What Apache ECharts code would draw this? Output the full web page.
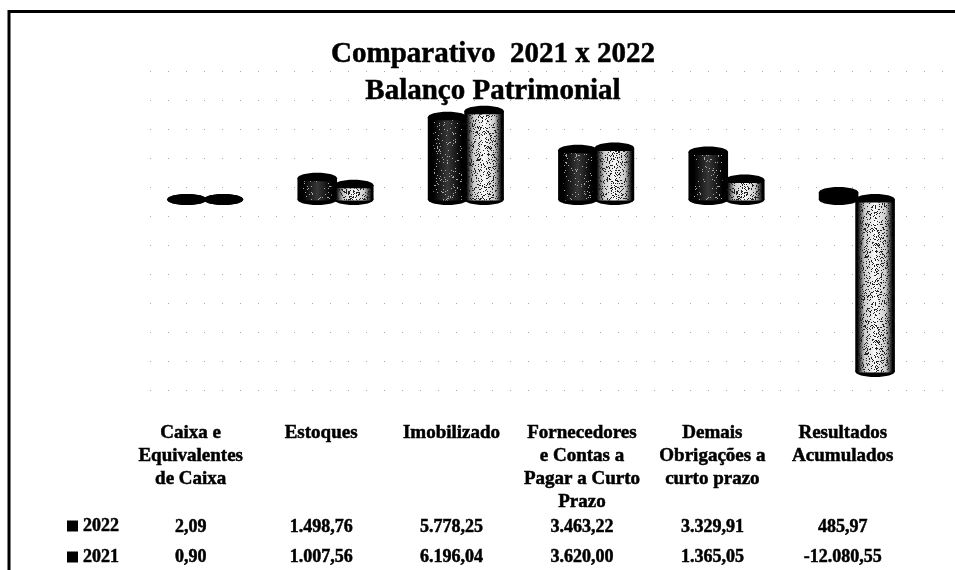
<!DOCTYPE html>
<html>
<head>
<meta charset="utf-8">
<style>html,body{margin:0;padding:0;background:#fff}#c{width:955px;height:570px}</style>
<script src="https://cdn.jsdelivr.net/npm/echarts@6/dist/echarts.min.js"></script>
</head>
<body>
<div id="c"></div>
<script>
const categories = ["Caixa e\nEquivalentes\nde Caixa", "Estoques", "Imobilizado", "Fornecedores\ne Contas a\nPagar a Curto\nPrazo", "Demais\nObrigações a\ncurto prazo", "Resultados\nAcumulados"];
const values2022 = [2.09, 1498.76, 5778.25, 3463.22, 3329.91, 485.97];
const values2021 = [0.90, 1007.56, 6196.04, 3620.00, 1365.05, -12080.55];
const labels2022 = ["2,09", "1.498,76", "5.778,25", "3.463,22", "3.329,91", "485,97"];
const labels2021 = ["0,90", "1.007,56", "6.196,04", "3.620,00", "1.365,05", "-12.080,55"];
const titleText = "Comparativo  2021 x 2022\nBalanço Patrimonial";

const FONT = '"Liberation Serif", serif';

// fixed-seed halftone tile that imitates the scanned dither of the cylinders
function speckle(density, colour) {
  const cv = document.createElement('canvas');
  cv.width = cv.height = 97;
  const g = cv.getContext('2d');
  g.fillStyle = colour;
  let s = 4711;
  for (let y = 0; y < 97; y++) for (let x = 0; x < 97; x++) {
    s = (s * 1664525 + 1013904223) % 4294967296;
    if ((s / 4294967296) * 100 < density) g.fillRect(x, y, 1, 1);
  }
  return { image: cv, repeat: 'repeat' };
}
function ramp(stops) {
  return { type: 'linear', x: 0, y: 0, x2: 1, y2: 0,
    colorStops: stops.map(([offset, color]) => ({ offset, color })) };
}
const looks = {
  dark: { inset: 0.72, glow: ramp([[0,'rgba(60,60,60,0)'],[0.5,'rgba(55,55,55,1)'],[1,'rgba(60,60,60,0)']]), dots: speckle(6, '#aaa') },
  light: { inset: 0.88, glow: ramp([[0,'rgba(235,235,235,0)'],[0.2,'rgba(225,225,225,0.9)'],[0.5,'rgba(250,250,250,1)'],[0.8,'rgba(225,225,225,0.9)'],[1,'rgba(235,235,235,0)']]), dots: speckle(22, '#222') }
};

function cylinder(look, side) {
  return function (params, api) {
    const band = api.size([1, 0])[0];
    const rx = band * 0.152, ry = 5.5;
    const cx = api.coord([api.value(0), 0])[0] + side * band * 0.14;
    const y0 = api.coord([api.value(0), 0])[1];
    const y1 = api.coord([api.value(0), api.value(1)])[1];
    const top = Math.min(y0, y1), bot = Math.max(y0, y1);
    const black = '#000';
    const children = [
      { type: 'ellipse', shape: { cx, cy: bot, rx, ry }, style: { fill: black } },
      { type: 'rect', shape: { x: cx - rx, y: top, width: rx * 2, height: bot - top }, style: { fill: black } },
      { type: 'ellipse', shape: { cx, cy: top, rx, ry }, style: { fill: black } }
    ];
    const inTop = top + 3, inBot = bot + 1;
    if (inBot - inTop > 6) {
      const w = rx * look.inset;
      [look.glow, look.dots].forEach(fill => {
        children.push({ type: 'rect', shape: { x: cx - w, y: inTop, width: w * 2, height: inBot - inTop }, style: { fill } });
      });
    }
    return { type: 'group', children };
  };
}
function cylinderSeries(name, values, look, side, colour) {
  return {
    type: 'custom', name, xAxisIndex: 0, yAxisIndex: 0,
    data: values.map((v, i) => [i, v]),
    encode: { x: 0, y: 1 },
    itemStyle: { color: colour },
    renderItem: cylinder(look, side),
    silent: true
  };
}
function tableAxis(data, offset, fontSize) {
  return {
    type: 'category', gridIndex: 1, data, position: 'bottom', offset,
    axisLine: { show: false, onZero: false }, axisTick: { show: false }, splitLine: { show: false },
    axisLabel: { interval: 0, margin: 0, fontFamily: FONT, fontWeight: 'bold', fontSize,
      color: '#000', textBorderColor: '#000', textBorderWidth: 0.5, lineHeight: 23, verticalAlign: 'top', align: 'center' }
  };
}
const hiddenCategory = gridIndex => ({ type: 'category', gridIndex, data: categories, show: false });

const chart = echarts.init(document.getElementById('c'), null, { renderer: 'canvas' });
chart.setOption({
  animation: false,
  backgroundColor: '#fff',
  title: {
    text: titleText, left: 488, top: 31, textAlign: 'center',
    textStyle: { fontFamily: FONT, fontWeight: 'bold', fontSize: 29, lineHeight: 37, color: '#000',
      textBorderColor: '#000', textBorderWidth: 0.5 }
  },
  graphic: [{
    type: 'polyline', silent: true, z: 10,
    shape: { points: [[9, 570], [9, 11.5], [955, 11.5]] },
    style: { fill: 'none', stroke: '#000', lineWidth: 3 }
  }],
  legend: {
    orient: 'vertical', left: 67, top: 516, itemWidth: 11, itemHeight: 11, itemGap: 11, padding: 0,
    icon: 'rect', data: ['2022', '2021'], selectedMode: false,
    textStyle: { fontFamily: FONT, fontWeight: 'bold', fontSize: 18, lineHeight: 20, color: '#000',
      textBorderColor: '#000', textBorderWidth: 0.5 }
  },
  grid: [
    { left: 140, right: 33, top: 71, bottom: 180 },   // cylinders
    { left: 125.5, right: 47, top: 71, bottom: 180 }, // data table under the plot
    { left: 150, right: 12, top: 71, bottom: 180 }    // back wall of the 3D box
  ],
  xAxis: [
    hiddenCategory(0),
    tableAxis(categories, 31.5, 19),
    tableAxis(labels2022, 125.5, 18),
    tableAxis(labels2021, 155.5, 18),
    hiddenCategory(2)
  ],
  yAxis: [
    { type: 'value', gridIndex: 0, min: -13378, max: 9024, show: false, splitLine: { show: false } },
    { type: 'value', gridIndex: 1, show: false, min: 0, max: 1, splitLine: { show: false } },
    { type: 'value', gridIndex: 2, min: -14000, max: 8000, interval: 2000, position: 'left',
      axisLine: { show: false }, axisTick: { show: false }, axisLabel: { show: false },
      splitLine: { show: true, lineStyle: { color: '#a8a8a8', width: 1, type: [1, 17] } } }
  ],
  series: [
    cylinderSeries('2022', values2022, looks.dark, -1, '#000'),
    cylinderSeries('2021', values2021, looks.light, 1, '#000')
  ]
});
</script>
</body>
</html>
